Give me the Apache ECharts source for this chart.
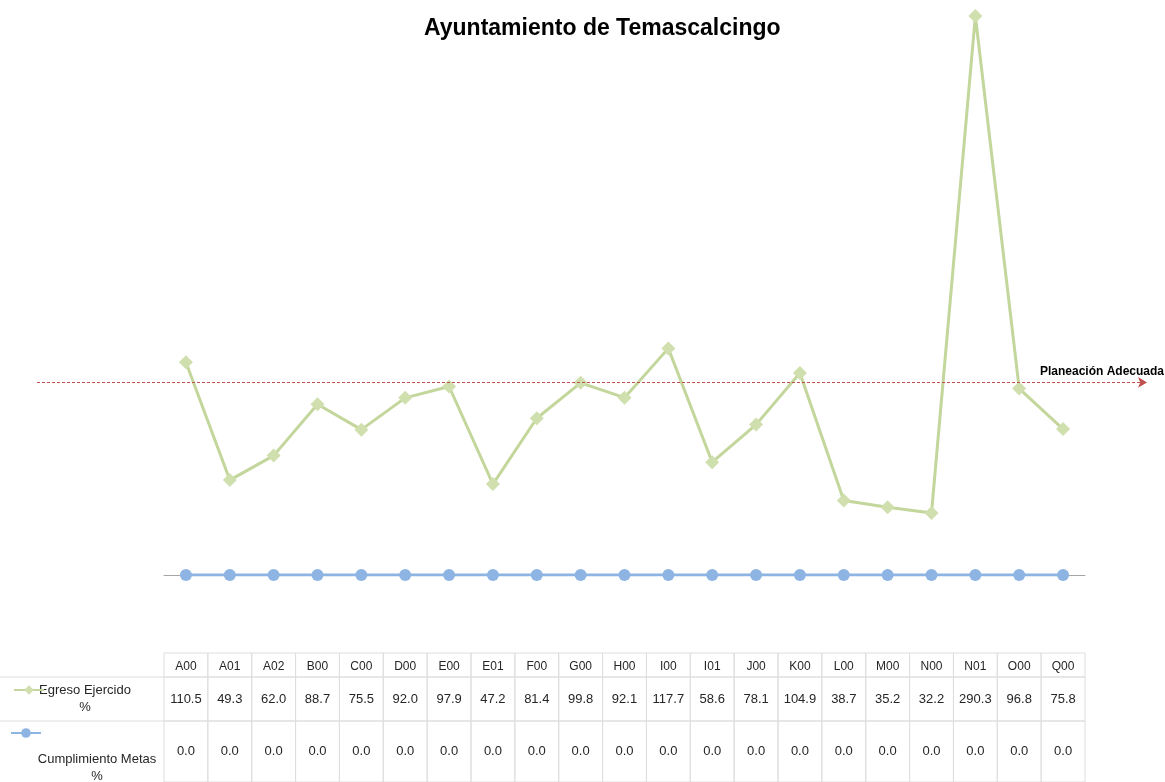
<!DOCTYPE html>
<html>
<head>
<meta charset="utf-8">
<title>Ayuntamiento de Temascalcingo</title>
<script src="https://cdn.jsdelivr.net/npm/echarts@6/dist/echarts.min.js"></script>
<style>
  html, body { margin: 0; padding: 0; background: #fff; }
  #main { width: 1165px; height: 782px; }
</style>
</head>
<body>
<div id="main"></div>
<script>
// claves de las dependencias
const claves = ["A00", "A01", "A02", "B00", "C00", "D00", "E00", "E01", "F00", "G00", "H00",
  "I00", "I01", "J00", "K00", "L00", "M00", "N00", "N01", "O00", "Q00"];

// Egreso Ejercido %
const egreso = [110.5, 49.3, 62.0, 88.7, 75.5, 92.0, 97.9, 47.2, 81.4, 99.8, 92.1,
  117.7, 58.6, 78.1, 104.9, 38.7, 35.2, 32.2, 290.3, 96.8, 75.8];

// Cumplimiento Metas %
const metas = [0.0, 0.0, 0.0, 0.0, 0.0, 0.0, 0.0, 0.0, 0.0, 0.0, 0.0,
  0.0, 0.0, 0.0, 0.0, 0.0, 0.0, 0.0, 0.0, 0.0, 0.0];

// linea de referencia
const planeacion = 100;

const nombres = ["Egreso Ejercido %", "Cumplimiento Metas %"];
const rotulos = ["", "Egreso Ejercido\n%", "Cumplimiento Metas\n%"];

// bordes de las filas de la tabla (unidades del eje de la tabla)
const filas = [0, 24, 68, 129];

const verde = "#c3d69b";
const azul = "#8db4e2";
const letra = "'Liberation Sans Narrow', 'Liberation Sans', Arial, sans-serif";

// celdas de la tabla: [columna, fila, esEncabezado]
const celdas = [];
for (let r = 0; r < 3; r++) {
  celdas.push([0, r, 1]);
  for (let c = 0; c < claves.length; c++) celdas.push([c, r, 0]);
}

function textoCelda(c, r, enc) {
  if (enc) return rotulos[r];
  if (r === 0) return claves[c];
  if (r === 1) return egreso[c].toFixed(1);
  return metas[c].toFixed(1);
}

const myChart = echarts.init(document.getElementById("main"));

myChart.setOption({
  backgroundColor: "#fff",
  animation: false,
  title: {
    text: "Ayuntamiento de Temascalcingo",
    left: 419,
    top: 12,
    textStyle: { fontFamily: "'Liberation Sans', Arial, sans-serif", fontSize: 23, fontWeight: "bold", color: "#000" }
  },
  legend: [
    {
      data: [nombres[0]], left: 13, top: 684, padding: 0,
      itemWidth: 30, itemHeight: 12, formatter: () => "", selectedMode: false
    },
    {
      data: [nombres[1]], left: 10, top: 727, padding: 0,
      itemWidth: 30, itemHeight: 12, formatter: () => "", selectedMode: false
    }
  ],
  grid: [
    { left: 164, right: 80, top: 7, bottom: 207 },   // grafica
    { left: 37, right: 18, top: 7, bottom: 207 },    // planeacion
    { left: 164, right: 80, top: 653, bottom: 0 }    // tabla
  ],
  xAxis: [
    {
      gridIndex: 0, type: "category", data: claves, boundaryGap: true,
      axisLine: { lineStyle: { color: "#a6a6a6", width: 1 } },
      axisTick: { show: false }, axisLabel: { show: false }
    },
    { gridIndex: 1, type: "value", min: 0, max: 1, show: false },
    { gridIndex: 2, type: "category", data: claves, show: false }
  ],
  yAxis: [
    { gridIndex: 0, type: "value", min: 0, max: 295, show: false, splitLine: { show: false } },
    { gridIndex: 1, type: "value", min: 0, max: 295, show: false, splitLine: { show: false } },
    { gridIndex: 2, type: "value", min: 0, max: 129, inverse: true, show: false, splitLine: { show: false } }
  ],
  series: [
    {
      name: "planeacion",
      type: "line",
      xAxisIndex: 1, yAxisIndex: 1,
      data: [[0, planeacion], [1, planeacion]],
      showSymbol: false,
      lineStyle: { width: 0, opacity: 0 },
      silent: true,
      markLine: {
        silent: true,
        symbol: ["none", "arrow"],
        symbolSize: [8, 9],
        lineStyle: { color: "#c0504d", type: [3, 2], width: 1 },
        label: {
          show: true,
          position: "insideEndTop",
          formatter: "Planeación Adecuada",
          color: "#000",
          fontWeight: "bold",
          fontSize: 12,
          fontFamily: letra,
          offset: [22, 0]
        },
        data: [{ yAxis: planeacion }]
      }
    },
    {
      name: nombres[0],
      type: "line",
      data: egreso,
      symbol: "diamond",
      symbolSize: 14,
      color: verde,
      lineStyle: { color: verde, width: 3 },
      itemStyle: { color: "#d0dfae" },
      z: 3
    },
    {
      name: nombres[1],
      type: "line",
      data: metas,
      symbol: "circle",
      symbolSize: 12,
      color: azul,
      lineStyle: { color: azul, width: 3 },
      itemStyle: { color: azul },
      z: 3
    },
    {
      name: "tabla",
      type: "custom",
      xAxisIndex: 2, yAxisIndex: 2,
      silent: true,
      data: celdas,
      renderItem: function (params, api) {
        const c = api.value(0), r = api.value(1), enc = api.value(2);
        const cs = params.coordSys;
        const y0 = api.coord([0, filas[r]])[1];
        const y1 = api.coord([0, filas[r + 1]])[1];
        const linea = { stroke: "#dedede", lineWidth: 1 };
        const txt = textoCelda(c, r, enc);
        if (enc) {
          if (r === 0) return null;
          const dx = r === 1 ? 3 : 15;
          const dy = r === 1 ? 0 : 16;
          return {
            type: "group",
            children: [
              { type: "line", shape: { x1: 0, y1: y0, x2: cs.x, y2: y0 }, style: linea },
              {
                type: "text",
                style: {
                  text: txt, x: cs.x / 2 + dx, y: (y0 + y1) / 2 + dy,
                  align: "center", verticalAlign: "middle",
                  fontSize: 13, lineHeight: 17, fontFamily: letra, fill: "#262626"
                }
              }
            ]
          };
        }
        const bw = api.size([1, 0])[0];
        const xc = api.coord([c, 0])[0];
        return {
          type: "group",
          children: [
            { type: "rect", shape: { x: xc - bw / 2, y: y0, width: bw, height: y1 - y0 }, style: { fill: "none", stroke: "#dedede", lineWidth: 1 } },
            {
              type: "text",
              style: {
                text: txt, x: xc, y: (y0 + y1) / 2 + (r === 0 ? 2 : 0),
                align: "center", verticalAlign: "middle",
                fontSize: r === 0 ? 12 : 13, fontFamily: letra, fill: "#262626"
              }
            }
          ]
        };
      }
    }
  ]
});
</script>
</body>
</html>
